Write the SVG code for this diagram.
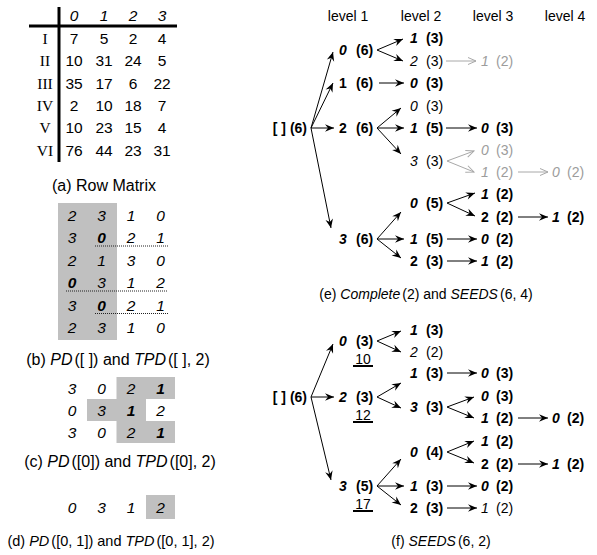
<svg xmlns="http://www.w3.org/2000/svg" width="597" height="555" viewBox="0 0 597 555">
<defs>
<style>
text{font-family:"Liberation Sans",Arial,sans-serif;fill:#000}
.L{font-size:15.5px}
.cap{font-size:16px}
.t{font-size:14px}
.c{text-anchor:middle}
.e{text-anchor:end}
.i{font-style:italic}
.b{font-weight:bold}
.g{fill:#9c9c9c}
.rn text{font-family:"Liberation Serif","Times New Roman",serif;font-size:15.5px;text-anchor:middle}
.ar{stroke:#000;stroke-width:1;fill:none;marker-end:url(#ah)}
.ag{stroke:#a8a8a8;stroke-width:1;fill:none;marker-end:url(#ahg)}
.sh{fill:#c0c0c0}
.dot{stroke:#222;stroke-width:1;stroke-dasharray:1 1;fill:none}
.ul{stroke:#000;stroke-width:2}
.rule{stroke:#000;stroke-width:3}
</style>
<marker id="ah" viewBox="-10 -5 11 10" refX="0" refY="0" markerWidth="11" markerHeight="10" markerUnits="userSpaceOnUse" orient="auto"><path d="M0,0 L-9,-3.8 L-6,0 L-9,3.8 Z" fill="#000"/></marker>
<marker id="ahg" viewBox="-10 -5 11 10" refX="0" refY="0" markerWidth="11" markerHeight="10" markerUnits="userSpaceOnUse" orient="auto"><path d="M-8,-3.5 L0,0 L-8,3.5" fill="none" stroke="#a8a8a8" stroke-width="1"/></marker>
</defs>
<rect width="597" height="555" fill="#fff"/>

<!-- (a) Row matrix -->
<g id="row-matrix">
<line class="rule" x1="59" y1="7" x2="59" y2="162"/>
<line class="rule" x1="29" y1="26" x2="177" y2="26"/>
<g class="L i c">
<text x="74" y="21">0</text><text x="104" y="21">1</text><text x="133" y="21">2</text><text x="162" y="21">3</text>
</g>
<g class="rn">
<text x="45" y="44">I</text><text x="45" y="66.3">II</text><text x="45" y="88.6">III</text><text x="45" y="110.9">IV</text><text x="45" y="133.2">V</text><text x="45" y="155.5">VI</text>
</g>
<g class="L c">
<text x="74" y="44">7</text><text x="104" y="44">5</text><text x="133" y="44">2</text><text x="162" y="44">4</text>
<text x="74" y="66.3">10</text><text x="104" y="66.3">31</text><text x="133" y="66.3">24</text><text x="162" y="66.3">5</text>
<text x="74" y="88.6">35</text><text x="104" y="88.6">17</text><text x="133" y="88.6">6</text><text x="162" y="88.6">22</text>
<text x="74" y="110.9">2</text><text x="104" y="110.9">10</text><text x="133" y="110.9">18</text><text x="162" y="110.9">7</text>
<text x="74" y="133.2">10</text><text x="104" y="133.2">23</text><text x="133" y="133.2">15</text><text x="162" y="133.2">4</text>
<text x="74" y="155.5">76</text><text x="104" y="155.5">44</text><text x="133" y="155.5">23</text><text x="162" y="155.5">31</text>
</g>
<text class="cap c" x="104" y="191">(a) Row Matrix</text>
</g>

<!-- (b) PD([ ]) -->
<g id="pd-empty">
<rect class="sh" x="58" y="203" width="59" height="137"/>
<g class="L i c">
<text x="72" y="220.5">2</text><text x="101.5" y="220.5">3</text><text x="131" y="220.5">1</text><text x="160.5" y="220.5">0</text>
<text x="72" y="243">3</text><text x="101.5" y="243" class="b">0</text><text x="131" y="243">2</text><text x="160.5" y="243">1</text>
<text x="72" y="265.5">2</text><text x="101.5" y="265.5">1</text><text x="131" y="265.5">3</text><text x="160.5" y="265.5">0</text>
<text x="72" y="288" class="b">0</text><text x="101.5" y="288">3</text><text x="131" y="288">1</text><text x="160.5" y="288">2</text>
<text x="72" y="310.5">3</text><text x="101.5" y="310.5" class="b">0</text><text x="131" y="310.5">2</text><text x="160.5" y="310.5">1</text>
<text x="72" y="333">2</text><text x="101.5" y="333">3</text><text x="131" y="333">1</text><text x="160.5" y="333">0</text>
</g>
<line class="dot" x1="95" y1="246" x2="168" y2="246"/>
<line class="dot" x1="66" y1="291" x2="168" y2="291"/>
<line class="dot" x1="95" y1="313.5" x2="168" y2="313.5"/>
<text class="cap c" x="118" y="365">(b) <tspan class="i">PD</tspan><tspan dx="2">([ ]) and </tspan><tspan class="i">TPD</tspan><tspan dx="2">([ ], 2)</tspan></text>
</g>

<!-- (c) PD([0]) -->
<g id="pd-0">
<path class="sh" d="M116.5,377 H175 V399 H146 V421 H175 V443 H116.5 V421 H87 V399 H116.5 Z"/>
<g class="L i c">
<text x="72" y="393.5">3</text><text x="101.5" y="393.5">0</text><text x="131" y="393.5">2</text><text x="160.5" y="393.5" class="b">1</text>
<text x="72" y="415.5">0</text><text x="101.5" y="415.5">3</text><text x="131" y="415.5" class="b">1</text><text x="160.5" y="415.5">2</text>
<text x="72" y="437.5">3</text><text x="101.5" y="437.5">0</text><text x="131" y="437.5">2</text><text x="160.5" y="437.5" class="b">1</text>
</g>
<text class="cap c" x="120" y="467">(c) <tspan class="i">PD</tspan><tspan dx="2">([0]) and </tspan><tspan class="i">TPD</tspan><tspan dx="2">([0], 2)</tspan></text>
</g>

<!-- (d) PD([0,1]) -->
<g id="pd-01">
<rect class="sh" x="146" y="495" width="29" height="24"/>
<g class="L i c">
<text x="72" y="512.5">0</text><text x="101.5" y="512.5">3</text><text x="131" y="512.5">1</text><text x="160.5" y="512.5">2</text>
</g>
<text class="c" style="font-size:14.5px" x="111" y="546">(d) <tspan class="i">PD</tspan><tspan dx="2">([0, 1]) and </tspan><tspan class="i">TPD</tspan><tspan dx="2">([0, 1], 2)</tspan></text>
</g>

<!-- level headers -->
<g id="levels" class="t c">
<text x="348" y="21">level 1</text><text x="421" y="21">level 2</text><text x="493" y="21">level 3</text><text x="565" y="21">level 4</text>
</g>

<!-- connectors -->
<g id="connectors">
<!-- (e) -->
<path class="ar" d="M311,128 L333,52"/>
<path class="ar" d="M311,128 L333,83"/>
<path class="ar" d="M311,128 L334,128"/>
<path class="ar" d="M311,128 L331,228"/>
<path class="ar" d="M377,50 L403,39"/>
<path class="ar" d="M377,50 L403,61"/>
<path class="ar" d="M379,83 L404,83"/>
<path class="ar" d="M377,128 L401,108"/>
<path class="ar" d="M377,128 L404,128"/>
<path class="ar" d="M377,128 L401,154"/>
<path class="ar" d="M377,239 L401,212"/>
<path class="ar" d="M377,239 L404,239"/>
<path class="ar" d="M377,239 L401,258"/>
<path class="ag" d="M446,61 L476,61"/>
<path class="ar" d="M446,128 L477,128"/>
<path class="ag" d="M447,161 L474,151"/>
<path class="ag" d="M447,161 L474,172"/>
<path class="ar" d="M447,203 L475,193"/>
<path class="ar" d="M447,203 L475,216"/>
<path class="ar" d="M447,239 L477,239"/>
<path class="ar" d="M447,261 L477,261"/>
<path class="ag" d="M518,172 L548,172"/>
<path class="ar" d="M518,217 L548,217"/>
<!-- (f) -->
<path class="ar" d="M311,397 L333,344"/>
<path class="ar" d="M311,397 L334,397"/>
<path class="ar" d="M311,397 L331,480"/>
<path class="ar" d="M377,341 L401,331"/>
<path class="ar" d="M377,341 L401,352"/>
<path class="ar" d="M377,397 L401,383"/>
<path class="ar" d="M377,397 L401,408"/>
<path class="ar" d="M377,486 L401,459"/>
<path class="ar" d="M377,486 L404,486"/>
<path class="ar" d="M377,486 L401,505"/>
<path class="ar" d="M447,373 L477,373"/>
<path class="ar" d="M447,407 L474,397"/>
<path class="ar" d="M447,407 L474,418"/>
<path class="ar" d="M447,452 L474,441"/>
<path class="ar" d="M447,452 L474,463"/>
<path class="ar" d="M447,486 L477,486"/>
<path class="ar" d="M447,508 L477,508"/>
<path class="ar" d="M518,418 L548,418"/>
<path class="ar" d="M518,464 L548,464"/>
</g>

<!-- (e) nodes -->
<g id="e-root"><text class="t b e" x="307" y="133">[ ] (6)</text></g>
<g id="e-0"><text class="t b" y="55"><tspan class="i" x="339">0</tspan><tspan x="356">(6)</tspan></text></g>
<g id="e-1"><text class="t b" y="88"><tspan x="339">1</tspan><tspan x="356">(6)</tspan></text></g>
<g id="e-2"><text class="t b" y="133"><tspan x="339">2</tspan><tspan x="356">(6)</tspan></text></g>
<g id="e-3"><text class="t b" y="244"><tspan class="i" x="339">3</tspan><tspan x="356">(6)</tspan></text></g>

<g id="e-01"><text class="t b" y="43"><tspan class="i" x="410">1</tspan><tspan x="426">(3)</tspan></text></g>
<g id="e-02"><text class="t" y="66"><tspan class="i" x="410">2</tspan><tspan x="426">(3)</tspan></text></g>
<g id="e-10"><text class="t b" y="88"><tspan class="i" x="410">0</tspan><tspan x="426">(3)</tspan></text></g>
<g id="e-20"><text class="t" y="111"><tspan class="i" x="410">0</tspan><tspan x="426">(3)</tspan></text></g>
<g id="e-21"><text class="t b" y="133"><tspan class="i" x="410">1</tspan><tspan x="426">(5)</tspan></text></g>
<g id="e-23"><text class="t" y="166"><tspan class="i" x="410">3</tspan><tspan x="426">(3)</tspan></text></g>
<g id="e-30"><text class="t b" y="208"><tspan class="i" x="410">0</tspan><tspan x="426">(5)</tspan></text></g>
<g id="e-31"><text class="t b" y="244"><tspan class="i" x="410">1</tspan><tspan x="426">(5)</tspan></text></g>
<g id="e-32"><text class="t b" y="266"><tspan x="410">2</tspan><tspan x="426">(3)</tspan></text></g>

<g id="e-021"><text class="t g" y="66"><tspan class="i" x="481">1</tspan><tspan x="496">(2)</tspan></text></g>
<g id="e-210"><text class="t b" y="133"><tspan class="i" x="481">0</tspan><tspan x="496">(3)</tspan></text></g>
<g id="e-230"><text class="t g" y="155"><tspan class="i" x="481">0</tspan><tspan x="496">(3)</tspan></text></g>
<g id="e-231"><text class="t g" y="177"><tspan class="i" x="481">1</tspan><tspan x="496">(2)</tspan></text></g>
<g id="e-301"><text class="t b" y="199"><tspan class="i" x="481">1</tspan><tspan x="496">(2)</tspan></text></g>
<g id="e-302"><text class="t b" y="222"><tspan x="481">2</tspan><tspan x="496">(2)</tspan></text></g>
<g id="e-310"><text class="t b" y="244"><tspan class="i" x="481">0</tspan><tspan x="496">(2)</tspan></text></g>
<g id="e-321"><text class="t b" y="266"><tspan class="i" x="481">1</tspan><tspan x="496">(2)</tspan></text></g>

<g id="e-2310"><text class="t g" y="177"><tspan class="i" x="552">0</tspan><tspan x="567">(2)</tspan></text></g>
<g id="e-3021"><text class="t b" y="222"><tspan class="i" x="552">1</tspan><tspan x="567">(2)</tspan></text></g>

<text class="t c" x="426" y="299">(e) <tspan class="i">Complete</tspan><tspan dx="2">(2) and </tspan><tspan class="i">SEEDS</tspan><tspan dx="2">(6, 4)</tspan></text>

<!-- (f) nodes -->
<g id="f-root"><text class="t b e" x="307" y="402">[ ] (6)</text></g>
<g id="f-0"><text class="t b" y="346"><tspan class="i" x="339">0</tspan><tspan x="356">(3)</tspan></text>
<text class="t c" x="363" y="364">10</text><line class="ul" x1="353" y1="366" x2="373" y2="366"/></g>
<g id="f-2"><text class="t b" y="402"><tspan class="i" x="339">2</tspan><tspan x="356">(3)</tspan></text>
<text class="t c" x="363" y="420">12</text><line class="ul" x1="353" y1="422" x2="373" y2="422"/></g>
<g id="f-3"><text class="t b" y="491"><tspan class="i" x="339">3</tspan><tspan x="356">(5)</tspan></text>
<text class="t c" x="363" y="509">17</text><line class="ul" x1="353" y1="511" x2="373" y2="511"/></g>

<g id="f-01"><text class="t b" y="335"><tspan class="i" x="410">1</tspan><tspan x="426">(3)</tspan></text></g>
<g id="f-02"><text class="t" y="357"><tspan class="i" x="410">2</tspan><tspan x="426">(2)</tspan></text></g>
<g id="f-21"><text class="t b" y="378"><tspan class="i" x="410">1</tspan><tspan x="426">(3)</tspan></text></g>
<g id="f-23"><text class="t b" y="412"><tspan class="i" x="410">3</tspan><tspan x="426">(3)</tspan></text></g>
<g id="f-30"><text class="t b" y="457"><tspan class="i" x="410">0</tspan><tspan x="426">(4)</tspan></text></g>
<g id="f-31"><text class="t b" y="491"><tspan class="i" x="410">1</tspan><tspan x="426">(3)</tspan></text></g>
<g id="f-32"><text class="t b" y="513"><tspan x="410">2</tspan><tspan x="426">(3)</tspan></text></g>

<g id="f-210"><text class="t b" y="378"><tspan class="i" x="481">0</tspan><tspan x="496">(3)</tspan></text></g>
<g id="f-230"><text class="t b" y="401"><tspan class="i" x="481">0</tspan><tspan x="496">(3)</tspan></text></g>
<g id="f-231"><text class="t b" y="423"><tspan class="i" x="481">1</tspan><tspan x="496">(2)</tspan></text></g>
<g id="f-301"><text class="t b" y="446"><tspan class="i" x="481">1</tspan><tspan x="496">(2)</tspan></text></g>
<g id="f-302"><text class="t b" y="469"><tspan x="481">2</tspan><tspan x="496">(2)</tspan></text></g>
<g id="f-310"><text class="t b" y="491"><tspan class="i" x="481">0</tspan><tspan x="496">(2)</tspan></text></g>
<g id="f-321"><text class="t" y="513"><tspan class="i" x="481">1</tspan><tspan x="496">(2)</tspan></text></g>

<g id="f-2310"><text class="t b" y="423"><tspan class="i" x="552">0</tspan><tspan x="567">(2)</tspan></text></g>
<g id="f-3021"><text class="t b" y="469"><tspan class="i" x="552">1</tspan><tspan x="567">(2)</tspan></text></g>

<text class="t c" x="441" y="546">(f) <tspan class="i">SEEDS</tspan><tspan dx="2">(6, 2)</tspan></text>
</svg>
